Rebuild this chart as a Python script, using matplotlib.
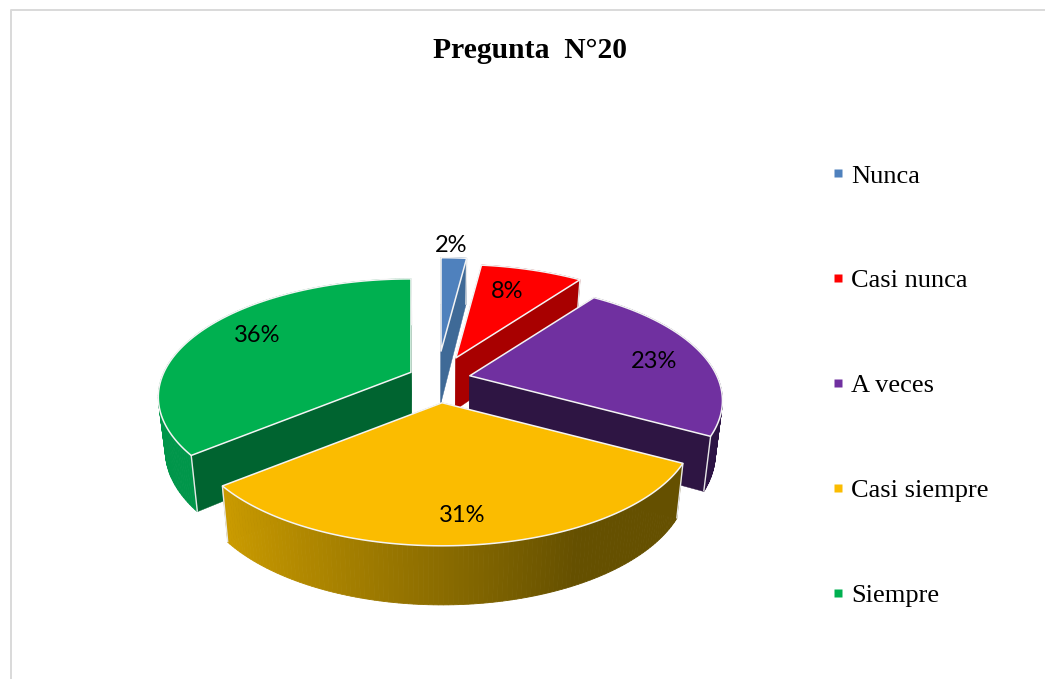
import numpy as np
import matplotlib
matplotlib.use("Agg")
import matplotlib.pyplot as plt
from matplotlib.lines import Line2D
from matplotlib.colors import to_rgb

categories = ["Nunca", "Casi nunca", "A veces", "Casi siempre", "Siempre"]
values = [2, 8, 23, 31, 36]
percent_labels = ["2%", "8%", "23%", "31%", "36%"]
title_text = "Pregunta  N°20"

top_colors = ["#4f81bd", "#ff0000", "#7030a0", "#fbbc00", "#00b050"]
cut_colors = ["#3f6a97", "#a80000", "#2e1543", "#655000", "#006430"]
wall_colors = ["#3f6a97", "#a80000", "#2d1445", None, "#00964a"]
layer_order = [0, 1, 3, 4, 2]      # stacking per slice: back to front
explode_x = [2.0, 1.6, 1.05, 1.7, 0.9]
explode_y = [1.0, 0.85, 1.0, 1.0, 1.0]

W, H = 1045, 679
CX, CY = 437, 377          # pie centre in pixels
EX, EY = 32, 26            # explosion
A, B, C = 247, 113, 0.21   # perspective
T0, TC, SHRINK = 52, 0.12, 0.975
label_xy = [(451, 245), (507, 292), (654, 362), (462, 516), (257, 336)]

fig = plt.figure(figsize=(W / 100, H / 100), dpi=100)
ax = fig.add_axes([0, 0, 1, 1])
ax.set_xlim(0, W)
ax.set_ylim(H, 0)
ax.axis("off")


def project(ang, ax0, ay0):
    X, Y = np.sin(ang), -np.cos(ang)
    den = 1 - C * Y
    return ax0 + A * X / den, ay0 + B * Y / den, Y


def lower(x, y, Y):
    return CX + SHRINK * (x - CX), y + T0 / (1 - TC * Y)


def yellow_wall_color(s):
    dark, light = np.array(to_rgb("#655000")), np.array(to_rgb("#cc9c00"))
    f = np.clip((0.45 - s) / 1.22, 0, 1)
    return tuple(dark + (light - dark) * f)


# frame
ax.plot([10.5, 10.5, W], [H, 10, 10], color="#d9d9d9", lw=1.4, zorder=0)

fractions = np.array(values) / np.sum(values)
edges = np.concatenate([[0], np.cumsum(fractions)]) * 2 * np.pi

for i in range(len(values)):
    z = 10 + layer_order[i]
    t0, t1 = edges[i], edges[i + 1]
    mid = (t0 + t1) / 2
    ax0 = CX + EX * explode_x[i] * np.sin(mid)
    ay0 = CY - EY * explode_y[i] * np.cos(mid) * abs(np.cos(mid))
    ts = np.linspace(t0, t1, 120)
    px, py, pY = project(ts, ax0, ay0)
    lx, ly = lower(px, py, pY)
    alx, aly = lower(ax0, ay0, 0.0)

    # cut faces
    for k in (0, -1):
        ax.fill([ax0, px[k], lx[k], alx], [ay0, py[k], ly[k], aly],
                color=cut_colors[i], lw=0.3, zorder=z)

    # outer wall strips
    for j in range(len(ts) - 1):
        if wall_colors[i] is None:
            col = yellow_wall_color(np.sin(ts[j]))
        else:
            col = wall_colors[i]
        ax.fill([px[j], px[j + 1], lx[j + 1], lx[j]],
                [py[j], py[j + 1], ly[j + 1], ly[j]],
                color=col, lw=0.6, zorder=z)

    for k in (0, -1):
        ax.plot([px[k], lx[k]], [py[k], ly[k]], color="#e8e8e8", lw=1.0,
                zorder=z, solid_capstyle="butt")

    # top face
    ax.fill(np.r_[ax0, px], np.r_[ay0, py], facecolor=top_colors[i],
            edgecolor="#f4f4f4", lw=1.1, joinstyle="round", zorder=z)

for (x, y), s in zip(label_xy, percent_labels):
    ax.text(x, y, s, ha="center", va="center", fontsize=17,
            family="Lato", color="black", zorder=30)

ax.text(530, 50, title_text, ha="center", va="center", fontsize=21.3,
        family="Liberation Serif", fontweight="bold", color="black")

handles = [Line2D([], [], linestyle="none", marker="s", markersize=5.6,
                  markerfacecolor=c, markeredgecolor="none") for c in top_colors]
ax.legend(handles, categories, loc="center left",
          bbox_to_anchor=(825 / W, 1 - 385.5 / H), frameon=False,
          prop={"family": "Liberation Serif", "size": 19},
          labelspacing=3.08, handlelength=1.0, handletextpad=0.0, borderpad=0,
          borderaxespad=0)

fig.savefig("out.png", dpi=100)
